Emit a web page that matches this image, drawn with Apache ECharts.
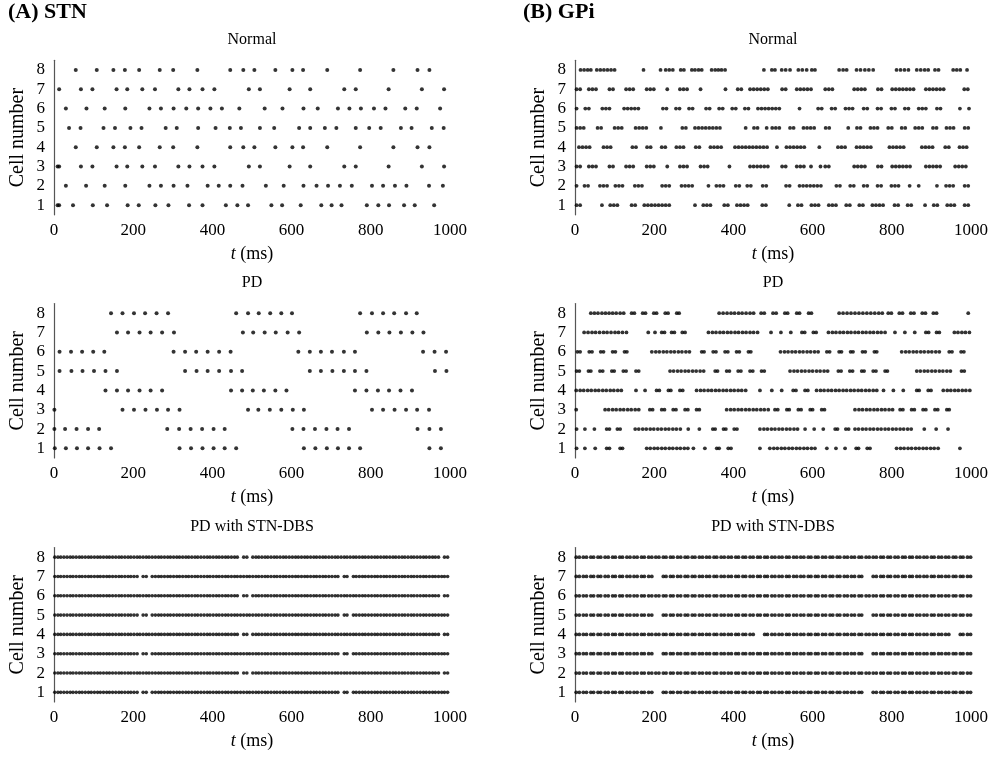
<!DOCTYPE html>
<html>
<head>
<meta charset="utf-8">
<script src="https://cdn.jsdelivr.net/npm/echarts@6/dist/echarts.min.js"></script>
<style>
html, body { margin: 0; padding: 0; background: #fff; }
#chart { width: 1000px; height: 759px; }
</style>
</head>
<body>
<div id="chart"></div>
<script>
// Cell labels on the vertical axis and time ticks (ms) on the horizontal axis
const cells = ['1', '2', '3', '4', '5', '6', '7', '8'];
const timeTicks = [0, 200, 400, 600, 800, 1000];

// Spike times (ms); each inner list is one cell, cell 1 first.
const stnNormal = [
  [9, 13, 48, 98, 134, 186, 214, 256, 289, 341, 375, 434, 463, 490, 549, 576, 623, 675, 701, 726, 790, 819, 846, 884, 911, 960],
  [30, 81, 128, 180, 241, 270, 302, 337, 388, 416, 445, 476, 535, 580, 630, 663, 692, 722, 752, 803, 831, 861, 890, 947, 982],
  [9, 13, 68, 97, 158, 185, 223, 255, 314, 342, 375, 405, 492, 520, 595, 647, 733, 762, 845, 929, 985],
  [55, 108, 150, 179, 215, 267, 301, 362, 445, 478, 506, 559, 602, 629, 690, 773, 857, 918, 948],
  [38, 67, 125, 154, 193, 221, 282, 310, 364, 408, 444, 472, 520, 556, 619, 647, 684, 713, 762, 796, 825, 876, 903, 954, 984],
  [30, 82, 128, 180, 241, 270, 302, 334, 364, 395, 424, 468, 532, 577, 630, 666, 717, 746, 775, 808, 837, 887, 916, 975],
  [13, 68, 97, 158, 185, 223, 255, 314, 342, 375, 405, 492, 520, 595, 647, 733, 762, 845, 929, 985],
  [55, 108, 150, 179, 215, 267, 301, 362, 445, 478, 506, 559, 602, 629, 690, 773, 857, 918, 948]
];

const stnPD = [
  [2, 30, 58, 86, 115, 144, 317, 346, 375, 403, 431, 460, 631, 660, 689, 717, 745, 773, 948, 977],
  [1, 28, 57, 86, 114, 286, 316, 345, 374, 403, 431, 602, 630, 659, 688, 716, 745, 918, 948, 977],
  [1, 173, 202, 231, 260, 288, 317, 490, 516, 545, 574, 603, 631, 803, 831, 860, 889, 917, 947],
  [130, 159, 187, 216, 244, 273, 447, 475, 502, 530, 559, 587, 760, 789, 818, 846, 875, 904],
  [14, 44, 72, 101, 130, 159, 331, 360, 388, 417, 447, 475, 646, 674, 703, 732, 760, 789, 962, 991],
  [14, 43, 71, 99, 127, 302, 331, 359, 388, 417, 446, 617, 646, 674, 702, 732, 760, 932, 961, 990],
  [159, 187, 216, 244, 273, 303, 477, 503, 532, 560, 590, 619, 790, 819, 847, 876, 905, 933],
  [144, 173, 202, 230, 259, 288, 460, 490, 517, 546, 574, 601, 773, 803, 831, 859, 889, 916]
];

// STN under DBS: odd cells share one train, even cells another
const stnDBSOdd = [2, 10, 17, 25, 33, 41, 48, 56, 64, 71, 79, 87, 94, 102, 110, 117, 125, 133, 140, 148, 156, 164, 171, 179, 187, 194, 202, 210,
  225, 233, 248, 256, 264, 271, 279, 287, 294, 302, 310, 317, 325, 333, 340, 348, 356, 363, 371, 379, 387, 394, 402, 410, 417, 425, 433, 440,
  448, 456, 463, 471, 479, 487, 494, 502, 510, 517, 525, 533, 540, 548, 556, 563, 571, 579, 586, 594, 602, 610, 617, 625, 633, 640, 648, 656,
  663, 671, 679, 686, 694, 702, 710, 717, 733, 740, 756, 763, 771, 779, 786, 794, 802, 810, 817, 825, 833, 840, 848, 856, 863, 871, 879, 886,
  894, 902, 909, 917, 925, 933, 940, 948, 956, 963, 971, 979, 986, 994];
const stnDBSEven = [2, 10, 17, 25, 33, 41, 48, 56, 64, 71, 79, 87, 94, 102, 110, 117, 125, 133, 140, 148, 156, 164, 171, 179, 187, 194, 202, 210,
  217, 225, 233, 240, 248, 256, 264, 271, 279, 287, 294, 302, 310, 317, 325, 333, 340, 348, 356, 363, 371, 379, 387, 394, 402, 410, 417, 425,
  433, 440, 448, 456, 463, 479, 487, 502, 510, 517, 525, 533, 540, 548, 556, 563, 571, 579, 586, 594, 602, 610, 617, 625, 633, 640, 648, 656,
  663, 671, 679, 686, 694, 702, 710, 717, 725, 733, 740, 748, 756, 763, 771, 779, 786, 794, 802, 810, 817, 825, 833, 840, 848, 856, 863, 871,
  879, 886, 894, 902, 909, 917, 925, 933, 940, 948, 956, 963, 971, 986, 994];
const stnDBS = [stnDBSOdd, stnDBSEven, stnDBSOdd, stnDBSEven, stnDBSOdd, stnDBSEven, stnDBSOdd, stnDBSEven];

const gpiNormal = [
  [4, 13, 68, 89, 98, 107, 143, 152, 175, 184, 193, 202, 211, 220, 229, 238, 303, 324, 333, 342, 377, 386, 409, 418, 427, 436, 473, 482,
   541, 563, 572, 597, 606, 615, 641, 650, 659, 685, 694, 718, 727, 751, 760, 769, 778, 807, 816, 840, 849, 884, 906, 915, 940, 949, 958, 984, 993],
  [4, 24, 33, 63, 72, 81, 102, 111, 120, 151, 160, 169, 220, 229, 238, 269, 278, 287, 296, 337, 357, 366, 375, 406, 415, 435, 444, 474, 483,
   533, 542, 567, 576, 585, 594, 603, 612, 621, 660, 669, 695, 704, 729, 738, 764, 773, 799, 808, 817, 845, 868, 914, 937, 946, 955, 984, 993],
  [4, 13, 35, 44, 53, 87, 96, 129, 138, 147, 181, 190, 199, 233, 265, 274, 283, 317, 326, 335, 390, 442, 451, 460, 469, 478, 487, 523, 532,
   560, 569, 578, 596, 620, 632, 641, 705, 714, 723, 732, 765, 774, 801, 810, 819, 828, 837, 846, 886, 895, 904, 913, 922, 960, 969, 978, 987],
  [10, 19, 28, 37, 72, 81, 90, 145, 154, 182, 191, 219, 228, 256, 265, 274, 305, 314, 342, 351, 360, 369, 404, 413, 422, 431, 440, 449, 458,
   467, 476, 485, 510, 534, 543, 552, 561, 570, 579, 617, 664, 673, 682, 711, 720, 729, 738, 747, 794, 803, 812, 821, 830, 876, 885, 894, 903,
   935, 944, 971, 980, 989],
  [4, 13, 22, 57, 66, 100, 109, 118, 153, 162, 171, 180, 217, 271, 280, 303, 312, 321, 330, 339, 348, 357, 366, 431, 452, 461, 484, 498, 507,
   516, 543, 552, 577, 586, 595, 604, 633, 642, 690, 712, 721, 746, 755, 764, 791, 800, 825, 834, 859, 868, 877, 904, 913, 938, 947, 956, 984, 993],
  [4, 26, 35, 69, 78, 87, 124, 133, 142, 151, 160, 222, 231, 255, 264, 288, 297, 331, 340, 364, 373, 397, 406, 429, 438, 462, 471, 480, 489,
   498, 507, 516, 567, 614, 623, 648, 657, 683, 692, 701, 729, 738, 764, 773, 799, 808, 833, 842, 868, 877, 886, 914, 923, 972, 995],
  [4, 13, 35, 44, 53, 87, 96, 129, 138, 147, 181, 190, 199, 233, 265, 274, 283, 317, 380, 411, 420, 442, 451, 460, 469, 478, 487, 523, 532,
   560, 569, 578, 587, 596, 632, 641, 650, 705, 714, 723, 732, 765, 774, 801, 810, 819, 828, 837, 846, 855, 886, 895, 904, 913, 922, 931, 983, 992],
  [14, 23, 32, 40, 55, 64, 73, 82, 91, 100, 173, 216, 229, 238, 247, 267, 275, 295, 303, 312, 320, 345, 354, 362, 370, 379, 477, 497, 505,
   522, 532, 543, 564, 574, 585, 598, 606, 667, 677, 686, 711, 721, 732, 742, 753, 812, 822, 832, 842, 863, 873, 883, 892, 909, 918, 955, 964, 973, 990]
];

const gpiPD = [
  [4, 25, 51, 80, 87, 114, 120, 181, 190, 200, 209, 219, 228, 238, 247, 257, 266, 276, 285, 299, 328, 358, 364, 387, 394, 467, 492, 502, 511,
   521, 530, 540, 549, 559, 568, 578, 587, 597, 606, 636, 659, 682, 710, 716, 738, 745, 812, 822, 831, 841, 850, 860, 869, 879, 888, 898, 907, 917, 972],
  [4, 25, 49, 80, 87, 107, 114, 152, 161, 171, 180, 190, 199, 209, 218, 228, 237, 247, 256, 266, 286, 314, 348, 354, 375, 381, 402, 409, 467,
   477, 486, 496, 505, 515, 524, 534, 543, 553, 562, 581, 604, 627, 657, 663, 684, 691, 707, 716, 726, 735, 745, 754, 764, 773, 783, 792, 802,
   811, 821, 830, 840, 849, 882, 912, 942],
  [3, 76, 85, 95, 104, 114, 123, 133, 142, 152, 161, 189, 196, 219, 226, 248, 255, 278, 285, 307, 314, 383, 393, 402, 412, 421, 431, 440, 450,
   459, 469, 478, 488, 505, 512, 535, 541, 564, 571, 594, 600, 623, 630, 707, 717, 726, 736, 745, 755, 764, 774, 783, 793, 802, 821, 828, 850,
   857, 879, 886, 909, 916, 939, 945],
  [3, 13, 22, 32, 41, 51, 60, 70, 79, 89, 98, 108, 117, 154, 177, 206, 213, 236, 242, 265, 272, 307, 317, 326, 336, 345, 355, 364, 374, 383,
   393, 402, 412, 421, 431, 467, 497, 522, 551, 558, 581, 588, 610, 620, 629, 639, 648, 658, 667, 677, 686, 696, 705, 715, 724, 734, 743, 753,
   762, 779, 804, 829, 863, 869, 892, 899, 930, 940, 949, 959, 968, 978, 987, 997],
  [4, 11, 34, 40, 63, 70, 93, 99, 122, 129, 154, 161, 240, 249, 259, 268, 278, 287, 297, 306, 316, 325, 354, 360, 383, 390, 412, 419, 442, 449,
   471, 478, 543, 553, 562, 572, 581, 591, 600, 610, 619, 629, 638, 665, 672, 694, 701, 724, 730, 753, 760, 783, 789, 863, 872, 882, 891, 901,
   910, 920, 929, 939, 948, 976, 983],
  [6, 13, 36, 43, 65, 72, 95, 102, 125, 131, 194, 204, 213, 223, 232, 242, 251, 261, 270, 280, 289, 320, 326, 349, 356, 379, 386, 408, 415,
   438, 444, 519, 529, 538, 548, 557, 567, 576, 586, 595, 605, 614, 636, 643, 667, 673, 696, 702, 726, 733, 756, 762, 825, 835, 844, 854, 863,
   873, 882, 892, 901, 911, 920, 945, 952, 975, 982],
  [23, 33, 43, 52, 62, 72, 81, 91, 101, 110, 120, 130, 185, 202, 219, 226, 244, 251, 271, 278, 337, 347, 356, 366, 375, 385, 394, 404, 413,
   423, 432, 442, 451, 461, 495, 520, 545, 573, 580, 602, 609, 640, 650, 659, 669, 678, 688, 697, 707, 716, 726, 735, 745, 754, 764, 773, 783,
   808, 833, 858, 886, 893, 913, 920, 958, 967, 977, 986, 996],
  [40, 49, 58, 68, 77, 86, 95, 104, 114, 123, 143, 150, 171, 178, 199, 206, 228, 235, 257, 263, 364, 374, 384, 394, 403, 413, 422, 432, 442,
   451, 470, 478, 500, 508, 530, 537, 560, 567, 590, 597, 667, 677, 687, 697, 707, 717, 727, 737, 747, 757, 767, 776, 791, 799, 819, 827, 848,
   856, 877, 885, 905, 913, 993]
];

// GPi under STN-DBS: spikes come in close pairs; three recurring trains
const gpiDBSa = [3, 11, 21, 29, 40, 47, 58, 65, 76, 84, 95, 102, 113, 120, 131, 139, 149, 157, 168, 175, 186, 194, 204, 212, 223, 230,
  241, 248, 259, 267, 278, 285, 296, 303, 314, 322, 332, 340, 351, 358, 369, 377, 387, 395, 406, 413, 424, 431, 442, 450, 461, 468, 479, 486,
  497, 505, 515, 523, 534, 541, 552, 560, 570, 578, 589, 596, 607, 614, 625, 633, 644, 651, 662, 669, 680, 688, 698, 706, 717, 724, 735, 743,
  753, 761, 772, 779, 790, 797, 808, 816, 827, 834, 845, 852, 863, 871, 881, 889, 900, 907, 918, 926, 936, 944, 955, 962, 973, 980, 991, 999];
const gpiDBSb = [3, 11, 21, 29, 40, 47, 58, 65, 76, 84, 95, 102, 113, 120, 131, 139, 149, 157, 168, 175, 186, 194, 223, 230,
  241, 248, 259, 267, 278, 285, 296, 303, 314, 322, 332, 340, 351, 358, 369, 377, 387, 395, 406, 413, 424, 431, 442, 450, 461, 468, 479, 486,
  497, 505, 515, 523, 534, 541, 552, 560, 570, 578, 589, 596, 607, 614, 625, 633, 644, 651, 662, 669, 680, 688, 698, 706, 717, 724,
  753, 761, 772, 779, 790, 797, 808, 816, 827, 834, 845, 852, 863, 871, 881, 889, 900, 907, 918, 926, 936, 944, 955, 962, 973, 980, 991, 999];
const gpiDBSc = [3, 11, 21, 29, 40, 47, 58, 65, 76, 84, 95, 102, 113, 120, 131, 139, 149, 157, 168, 175, 186, 194, 204, 212, 223, 230,
  241, 248, 259, 267, 278, 285, 296, 303, 314, 322, 332, 340, 351, 358, 369, 377, 387, 395, 406, 413, 424, 431, 442, 450, 479, 486,
  497, 505, 515, 523, 534, 541, 552, 560, 570, 578, 589, 596, 607, 614, 625, 633, 644, 651, 662, 669, 680, 688, 698, 706, 717, 724, 735, 743,
  753, 761, 772, 779, 790, 797, 808, 816, 827, 834, 845, 852, 863, 871, 881, 889, 900, 907, 918, 926, 936, 944, 973, 980, 991, 999];
const gpiDBS = [gpiDBSb, gpiDBSa, gpiDBSb, gpiDBSc, gpiDBSb, gpiDBSa, gpiDBSb, gpiDBSa];

const FONT = '"Liberation Serif", "DejaVu Serif", serif';
const COLS = [54, 575];            // left edge of each column of panels
const ROWS = [60.3, 303.5, 547.5]; // top edge of each row of panels
const PW = 396, PH = 154.5;

const panels = [
  { data: stnNormal, col: 0, row: 0, title: 'Normal', dot: 4 },
  { data: stnPD,     col: 0, row: 1, title: 'PD', dot: 4 },
  { data: stnDBS,    col: 0, row: 2, title: 'PD with STN-DBS', dot: 3.6 },
  { data: gpiNormal, col: 1, row: 0, title: 'Normal', dot: 3.8 },
  { data: gpiPD,     col: 1, row: 1, title: 'PD', dot: 3.8 },
  { data: gpiDBS,    col: 1, row: 2, title: 'PD with STN-DBS', dot: 3.8 }
];

const axisColor = '#555';
const grids = [], xAxes = [], yAxes = [], series = [], texts = [];

panels.forEach((p, i) => {
  const left = COLS[p.col], top = ROWS[p.row];
  grids.push({ left: left, top: top, width: PW, height: PH });
  xAxes.push({
    gridIndex: i, type: 'value',
    min: timeTicks[0], max: timeTicks[timeTicks.length - 1],
    interval: timeTicks[1] - timeTicks[0],
    name: '{it|t} (ms)', nameLocation: 'middle', nameGap: 30,
    nameTextStyle: {
      fontFamily: FONT, fontSize: 18, color: '#000',
      rich: { it: { fontFamily: FONT, fontSize: 18, fontStyle: 'italic', color: '#000' } }
    },
    axisLine: { onZero: false, lineStyle: { color: axisColor, width: 1.2 } },
    axisTick: { inside: true, length: 4, lineStyle: { color: axisColor } },
    axisLabel: { fontFamily: FONT, fontSize: 17, color: '#000', margin: 7, formatter: v => String(v) },
    splitLine: { show: false }
  });
  yAxes.push({
    gridIndex: i, type: 'category', data: cells,
    name: 'Cell number', nameLocation: 'middle', nameGap: 26,
    nameTextStyle: { fontFamily: FONT, fontSize: 20, color: '#000' },
    axisLine: { onZero: false, lineStyle: { color: axisColor, width: 1.2 } },
    axisTick: { inside: true, alignWithLabel: true, interval: 0, length: 4, lineStyle: { color: axisColor } },
    axisLabel: { fontFamily: FONT, fontSize: 17, color: '#000', margin: 9, interval: 0 },
    splitLine: { show: false }
  });
  const pts = [];
  p.data.forEach((times, c) => times.forEach(t => pts.push([t, cells[c]])));
  series.push({
    type: 'scatter', xAxisIndex: i, yAxisIndex: i, data: pts,
    symbol: 'circle', symbolSize: p.dot, silent: true,
    itemStyle: { color: '#000' }
  });
  texts.push({
    type: 'text', x: left + PW / 2, y: top - 21,
    style: { text: p.title, fill: '#000', font: '16px ' + FONT, textAlign: 'center', textVerticalAlign: 'middle' }
  });
});

texts.push({ type: 'text', x: 8, y: 12,
  style: { text: '(A) STN', fill: '#000', font: 'bold 22px ' + FONT, textAlign: 'left', textVerticalAlign: 'middle' } });
texts.push({ type: 'text', x: 523, y: 12,
  style: { text: '(B) GPi', fill: '#000', font: 'bold 22px ' + FONT, textAlign: 'left', textVerticalAlign: 'middle' } });

const chart = echarts.init(document.getElementById('chart'), null, { renderer: 'canvas' });
chart.setOption({
  animation: false,
  backgroundColor: '#fff',
  grid: grids, xAxis: xAxes, yAxis: yAxes, series: series,
  graphic: texts
});
</script>
</body>
</html>
